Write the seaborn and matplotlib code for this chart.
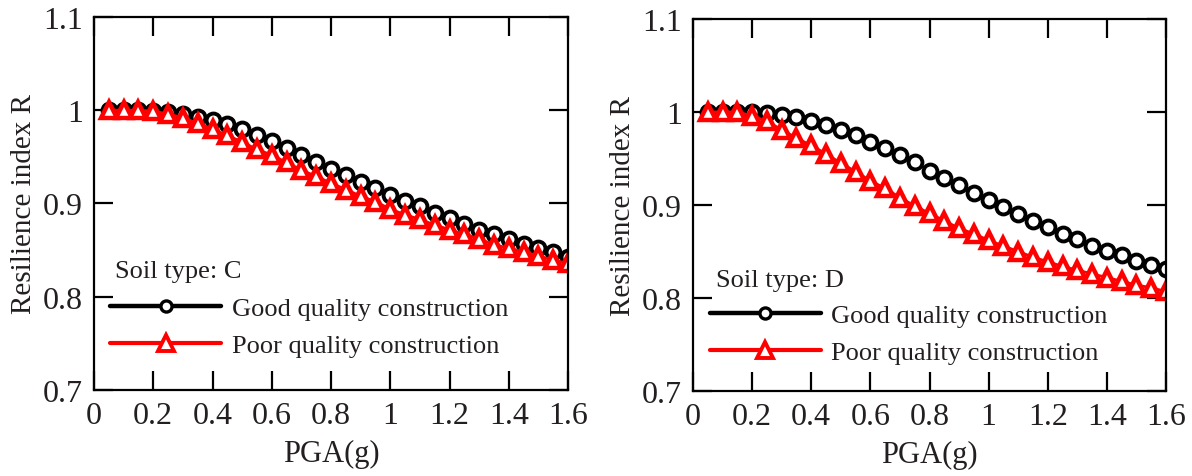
import numpy as np
import pandas as pd
import seaborn as sns
import matplotlib
matplotlib.use("Agg")
import matplotlib.pyplot as plt
from matplotlib.lines import Line2D

# Peak ground acceleration levels (g)
pga = [0.05, 0.10, 0.15, 0.20, 0.25, 0.30, 0.35, 0.40, 0.45, 0.50, 0.55,
       0.60, 0.65, 0.70, 0.75, 0.80, 0.85, 0.90, 0.95, 1.00, 1.05, 1.10,
       1.15, 1.20, 1.25, 1.30, 1.35, 1.40, 1.45, 1.50, 1.55, 1.60]

# Soil type C
good_c = [1.000, 1.000, 1.000, 0.999, 0.998, 0.996, 0.993, 0.990, 0.985, 0.980,
          0.973, 0.967, 0.960, 0.952, 0.945, 0.937, 0.931, 0.923, 0.917, 0.909,
          0.903, 0.897, 0.890, 0.884, 0.878, 0.872, 0.867, 0.862, 0.857, 0.852,
          0.848, 0.843]
poor_c = [1.000, 1.000, 1.000, 0.999, 0.996, 0.992, 0.986, 0.980, 0.973, 0.966,
          0.958, 0.952, 0.944, 0.936, 0.929, 0.922, 0.915, 0.908, 0.902, 0.894,
          0.888, 0.883, 0.877, 0.872, 0.867, 0.862, 0.856, 0.852, 0.848, 0.844,
          0.839, 0.836]

# Soil type D
good_d = [1.000, 1.000, 1.000, 1.000, 0.999, 0.997, 0.995, 0.990, 0.986, 0.981,
          0.975, 0.968, 0.961, 0.954, 0.946, 0.937, 0.929, 0.921, 0.913, 0.905,
          0.898, 0.890, 0.883, 0.876, 0.869, 0.863, 0.856, 0.851, 0.846, 0.840,
          0.836, 0.831]
poor_d = [1.000, 1.000, 1.000, 0.996, 0.990, 0.981, 0.972, 0.964, 0.955, 0.945,
          0.936, 0.926, 0.918, 0.908, 0.899, 0.891, 0.883, 0.875, 0.869, 0.862,
          0.856, 0.850, 0.844, 0.839, 0.834, 0.830, 0.826, 0.822, 0.818, 0.814,
          0.811, 0.807]

soil_types = ["C", "D"]
series_labels = ["Good quality construction", "Poor quality construction"]
x_ticks = [0, 0.2, 0.4, 0.6, 0.8, 1.0, 1.2, 1.4, 1.6]
x_tick_labels = ["0", "0.2", "0.4", "0.6", "0.8", "1", "1.2", "1.4", "1.6"]
y_ticks = [0.7, 0.8, 0.9, 1.0, 1.1]
y_tick_labels = ["0.7", "0.8", "0.9", "1", "1.1"]

sns.set_theme(style="ticks")
plt.rcParams["font.family"] = ["Liberation Serif", "DejaVu Serif"]
TXT = "#231f20"
plt.rcParams["text.color"] = TXT

fig = plt.figure(figsize=(11.92, 4.77), dpi=100)
ax_c = fig.add_axes([94 / 1192, 1 - 391 / 477, 474 / 1192, 373 / 477])
ax_d = fig.add_axes([693 / 1192, 1 - 392 / 477, 473 / 1192, 372 / 477])

panels = [
    (ax_c, good_c, poor_c, soil_types[0], (0.044, 0.318), (0.034, 0.218, 0.120)),
    (ax_d, good_d, poor_d, soil_types[1], (0.048, 0.298), (0.036, 0.199, 0.107)),
]

for ax, good, poor, soil, title_pos, leg_pos in panels:
    df = pd.DataFrame({"PGA": pga, "Good": good, "Poor": poor})
    sns.lineplot(data=df, x="PGA", y="Good", ax=ax, color="black", lw=2,
                 marker="o", markersize=10, markeredgewidth=2.8,
                 markeredgecolor="black", markerfacecolor="white")
    sns.lineplot(data=df, x="PGA", y="Poor", ax=ax, color="#ff0000", lw=2,
                 marker="^", markersize=12, markeredgewidth=3.2,
                 markeredgecolor="#ff0000", markerfacecolor="white")

    ax.set_xlim(0, 1.6)
    ax.set_ylim(0.7, 1.1)
    ax.set_xticks(x_ticks)
    ax.set_xticklabels(x_tick_labels)
    ax.set_yticks(y_ticks)
    ax.set_yticklabels(y_tick_labels)
    ax.tick_params(direction="in", length=14, width=1.6, top=True, right=True,
                   labelsize=23, pad=8, colors="black", labelcolor=TXT)
    for sp in ax.spines.values():
        sp.set_linewidth(1.6)
        sp.set_color("black")
    ax.set_xlabel("PGA(g)", fontsize=22, color=TXT, labelpad=6)
    ax.set_ylabel("Resilience index R", fontsize=21, color=TXT, labelpad=4)

    ax.text(title_pos[0], title_pos[1], f"Soil type: {soil}", transform=ax.transAxes,
            fontsize=19, ha="left", va="center", color=TXT)

    handles = [
        Line2D([], [], color="black", lw=3.2, marker="o", markersize=8,
               markeredgewidth=2.4, markerfacecolor="white", markeredgecolor="black"),
        Line2D([], [], color="#ff0000", lw=3.0, marker="^", markersize=11,
               markeredgewidth=2.8, markerfacecolor="white", markeredgecolor="#ff0000"),
    ]
    ax.legend(handles, series_labels, loc="center left",
              bbox_to_anchor=(leg_pos[0], (leg_pos[1] + leg_pos[2]) / 2),
              bbox_transform=ax.transAxes, frameon=False, fontsize=19,
              handlelength=4.2, handletextpad=0.4, borderpad=0, borderaxespad=0,
              labelspacing=0.5, numpoints=1)

fig.savefig("out.png", dpi=100)
